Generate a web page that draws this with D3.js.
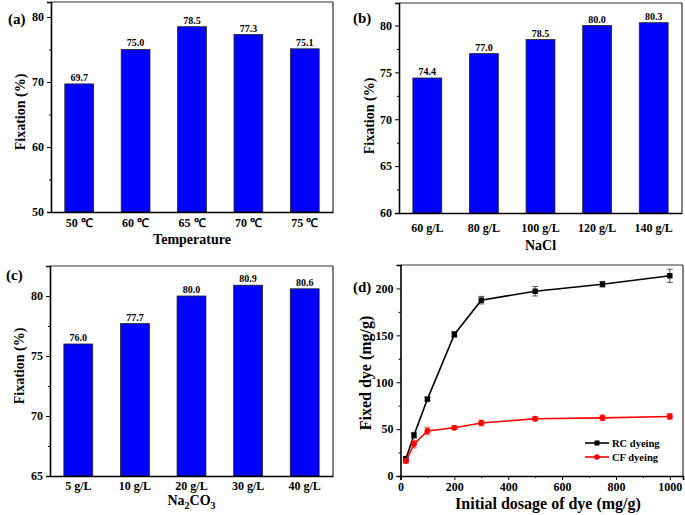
<!DOCTYPE html>
<html><head><meta charset="utf-8">
<script src="https://cdn.jsdelivr.net/npm/d3@7"></script>
<style>body{margin:0;background:#fff}svg{display:block}text{font-family:"Liberation Serif","Times New Roman",serif;font-weight:bold;fill:#000}</style>
</head><body><svg id="c" width="685" height="515"></svg>
<script>
// Panel (a)
const tempCats = ["50 ℃","60 ℃","65 ℃","70 ℃","75 ℃"];
const tempVals = [69.7, 75.0, 78.5, 77.3, 75.1];
// Panel (b)
const naclCats = ["60 g/L","80 g/L","100 g/L","120 g/L","140 g/L"];
const naclVals = [74.4, 77.0, 78.5, 80.0, 80.3];
// Panel (c)
const carbCats = ["5 g/L","10 g/L","20 g/L","30 g/L","40 g/L"];
const carbVals = [76.0, 77.7, 80.0, 80.9, 80.6];
// Panel (d)
const dosage = [20, 50, 100, 200, 300, 500, 750, 1000];
const rcVals = [18.5, 43.5, 82, 151, 187.5, 197, 204.5, 213.5];
const rcErr  = [1.5, 3, 2, 3, 4, 5, 3, 7];
const cfVals = [16, 34, 48, 51.5, 56.5, 61, 62, 63.5];
const cfErr  = [2, 4, 4, 2, 3, 2, 3, 3];
const seriesNames = ["RC dyeing","CF dyeing"];

const svg = d3.select("#c");

function frame(g, L, R, T, B){
  g.append("line").attr("x1",L).attr("x2",R).attr("y1",T).attr("y2",T).attr("stroke","#333").attr("stroke-width",1.2);
  g.append("line").attr("x1",R).attr("x2",R).attr("y1",T).attr("y2",B).attr("stroke","#333").attr("stroke-width",1.2);
}

function barPanel(opts){
  const {L,R,T,B,cats,vals,domain,major,minor,label,lx,ly,xtitle,ytx,ytitleY,xtY,tickY} = opts;
  const g = svg.append("g");
  const x = d3.scaleBand().domain(cats).range([L,R]).paddingInner(0.49).paddingOuter(0.245);
  const y = d3.scaleLinear().domain(domain).range([B,T]);
  frame(g,L,R,T,B);
  g.selectAll("rect").data(vals).join("rect")
    .attr("x",(d,i)=>x(cats[i])).attr("width",x.bandwidth())
    .attr("y",d=>y(d)).attr("height",d=>B-y(d))
    .attr("fill","#0000ff").attr("stroke","#222").attr("stroke-width",0.8);
  g.selectAll("text.v").data(vals).join("text").attr("class","v")
    .attr("x",(d,i)=>x(cats[i])+x.bandwidth()/2).attr("y",d=>y(d)-3)
    .attr("text-anchor","middle").attr("font-size",10).text(d=>d.toFixed(1));
  // y axis
  const ya = d3.axisLeft(y).tickValues(major).tickSize(4).tickPadding(3).tickFormat(d3.format("d"));
  const yg = g.append("g").attr("transform",`translate(${L},0)`).call(ya);
  yg.select(".domain").attr("stroke-width",1.6);
  yg.selectAll("text").attr("font-size",12).attr("font-family",'"Liberation Serif",serif').attr("font-weight","bold");
  const ym = d3.axisLeft(y).tickValues(minor).tickSize(2).tickFormat("");
  g.append("g").attr("transform",`translate(${L},0)`).call(ym).select(".domain").remove();
  // x axis
  const xa = d3.axisBottom(x).tickSize(0).tickPadding(tickY);
  const xg = g.append("g").attr("transform",`translate(0,${B})`).call(xa);
  xg.select(".domain").attr("stroke-width",1.6);
  xg.selectAll("text").attr("font-size",12).attr("font-family",'"Liberation Serif",serif').attr("font-weight","bold");
  // titles
  const xt = g.append("text").attr("x",(L+R)/2).attr("y",xtY).attr("text-anchor","middle").attr("font-size",14);
  if (Array.isArray(xtitle)) {
    xtitle.forEach(p=>{const s=xt.append("tspan").text(p.t); if(p.sub){s.attr("font-size",10).attr("dy",4);} else if(p.after){s.attr("dy",-4);} });
  } else xt.text(xtitle);
  g.append("text").attr("transform",`translate(${ytx},${ytitleY}) rotate(-90)`).attr("text-anchor","middle").attr("font-size",14).text("Fixation (%)");
  g.append("text").attr("x",lx).attr("y",ly).attr("font-size",15).text(label);
}

barPanel({L:51,R:333,T:2,B:212,cats:tempCats,vals:tempVals,domain:[50,82.3],
  major:[50,60,70,80],minor:[55,65,75],label:"(a)",lx:8,ly:24,xtitle:"Temperature",
  ytx:25,ytitleY:112,xtY:244,tickY:6});
barPanel({L:399,R:682,T:3,B:213,cats:naclCats,vals:naclVals,domain:[60,82.4],
  major:[60,65,70,75,80],minor:[62.5,67.5,72.5,77.5],label:"(b)",lx:353,ly:23,xtitle:"NaCl",
  ytx:374,ytitleY:116,xtY:250,tickY:10});
barPanel({L:50,R:333,T:266,B:476,cats:carbCats,vals:carbVals,domain:[65,82.5],
  major:[65,70,75,80],minor:[67.5,72.5,77.5],label:"(c)",lx:6,ly:280,
  xtitle:[{t:"Na"},{t:"2",sub:true},{t:"CO",after:true},{t:"3",sub:true}],
  ytx:24,ytitleY:366,xtY:505,tickY:5});

// Panel (d)
(function(){
  const L=400.5,R=683,T=265,B=476;
  const g = svg.append("g");
  const x = d3.scaleLinear().domain([0,1049]).range([L,R]);
  const y = d3.scaleLinear().domain([0,225]).range([B,T]);
  frame(g,L,R,T,B);
  const xa = d3.axisBottom(x).tickValues([0,200,400,600,800,1000]).tickSize(4).tickPadding(2).tickFormat(d3.format("d"));
  const xg = g.append("g").attr("transform",`translate(0,${B})`).call(xa);
  xg.select(".domain").attr("stroke-width",1.6);
  xg.selectAll("text").attr("font-size",12).attr("font-family",'"Liberation Serif",serif').attr("font-weight","bold");
  g.append("g").attr("transform",`translate(0,${B})`).call(d3.axisBottom(x).tickValues([100,300,500,700,900]).tickSize(2).tickFormat("")).select(".domain").remove();
  const ya = d3.axisLeft(y).tickValues([0,50,100,150,200]).tickSize(4).tickPadding(3).tickFormat(d3.format("d"));
  const yg = g.append("g").attr("transform",`translate(${L},0)`).call(ya);
  yg.select(".domain").attr("stroke-width",1.6);
  yg.selectAll("text").attr("font-size",12).attr("font-family",'"Liberation Serif",serif').attr("font-weight","bold");
  g.append("g").attr("transform",`translate(${L},0)`).call(d3.axisLeft(y).tickValues([25,75,125,175,225]).tickSize(2).tickFormat("")).select(".domain").remove();

  const series = [
    {name:seriesNames[0], vals:rcVals, err:rcErr, color:"#000", ecolor:"#444", shape:"sq"},
    {name:seriesNames[1], vals:cfVals, err:cfErr, color:"#ff0000", ecolor:"#ff3333", shape:"ci"}
  ];
  const line = d3.line().x(d=>x(d[0])).y(d=>y(d[1]));
  series.forEach(s=>{
    const pts = dosage.map((d,i)=>[d,s.vals[i],s.err[i]]);
    const eg = g.append("g").attr("stroke",s.ecolor).attr("stroke-width",0.9);
    pts.forEach(p=>{
      const cx=x(p[0]);
      eg.append("line").attr("x1",cx).attr("x2",cx).attr("y1",y(p[1]-p[2])).attr("y2",y(p[1]+p[2]));
      eg.append("line").attr("x1",cx-3).attr("x2",cx+3).attr("y1",y(p[1]-p[2])).attr("y2",y(p[1]-p[2]));
      eg.append("line").attr("x1",cx-3).attr("x2",cx+3).attr("y1",y(p[1]+p[2])).attr("y2",y(p[1]+p[2]));
    });
    g.append("path").datum(pts).attr("d",line).attr("fill","none").attr("stroke",s.color).attr("stroke-width",1.6);
    pts.forEach(p=>{
      if(s.shape==="sq") g.append("rect").attr("x",x(p[0])-2.7).attr("y",y(p[1])-2.7).attr("width",5.4).attr("height",5.4).attr("fill",s.color);
      else g.append("circle").attr("cx",x(p[0])).attr("cy",y(p[1])).attr("r",3).attr("fill",s.color);
    });
  });
  // legend
  series.forEach((s,i)=>{
    const ly = 443 + i*14;
    g.append("line").attr("x1",585).attr("x2",609).attr("y1",ly).attr("y2",ly).attr("stroke",s.color).attr("stroke-width",1.6);
    if(s.shape==="sq") g.append("rect").attr("x",597-2.5).attr("y",ly-2.5).attr("width",5).attr("height",5).attr("fill",s.color);
    else g.append("circle").attr("cx",597).attr("cy",ly).attr("r",2.8).attr("fill",s.color);
    g.append("text").attr("x",612).attr("y",ly+4).attr("font-size",10.5).text(s.name);
  });
  g.append("text").attr("x",548).attr("y",509).attr("text-anchor","middle").attr("font-size",16).text("Initial dosage of dye (mg/g)");
  g.append("text").attr("transform",`translate(371,373) rotate(-90)`).attr("text-anchor","middle").attr("font-size",16).text("Fixed dye (mg/g)");
  g.append("text").attr("x",353).attr("y",292).attr("font-size",15).text("(d)");
})();
</script></body></html>
